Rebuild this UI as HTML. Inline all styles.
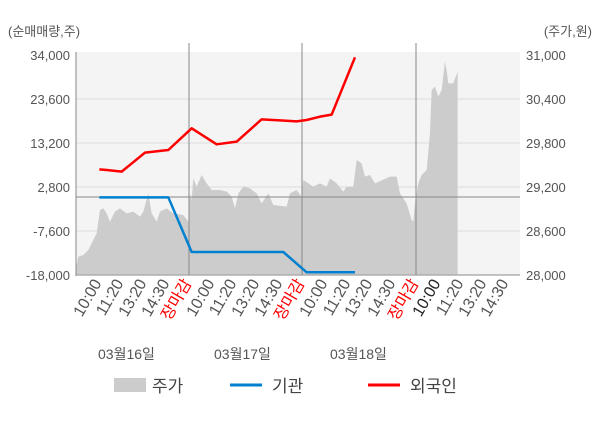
<!DOCTYPE html>
<html><head><meta charset="utf-8"><style>
body{margin:0;background:#fff}
svg{display:block;font-family:"Liberation Sans","Noto Sans CJK KR",sans-serif}
</style></head><body>
<svg width="600" height="428" xmlns="http://www.w3.org/2000/svg">
<rect x="76" y="52" width="444" height="223" fill="#f4f4f4"/>
<g stroke="#dcdcdc" stroke-width="1">
<line x1="76" y1="99" x2="520" y2="99"/><line x1="76" y1="143" x2="520" y2="143"/>
<line x1="76" y1="187" x2="520" y2="187"/><line x1="76" y1="231" x2="520" y2="231"/>
</g>
<g transform="translate(60,40) scale(0.3333)">
<polygon fill="#cccccc" points="47,703 47,690 55,650 70,645 85,630 100,600 110,580 120,510 130,505 140,520 150,545 165,515 180,505 200,520 220,515 240,530 250,515 265,460 275,520 290,545 300,515 320,505 340,520 370,525 385,545 390,460 395,480 400,415 410,440 425,405 440,430 455,450 480,450 500,455 515,470 525,505 535,460 550,440 570,445 590,460 605,490 625,460 640,495 680,500 690,460 710,450 725,470 730,420 745,430 760,440 780,430 800,440 810,415 830,430 850,455 860,440 880,440 890,360 905,370 915,410 930,405 945,430 990,410 1010,410 1020,460 1040,490 1055,540 1060,545 1065,490 1075,430 1085,405 1100,390 1110,280 1115,150 1125,140 1135,170 1145,150 1155,65 1160,90 1165,130 1180,130 1193,95 1193,703"/>
</g>
<g stroke="#888" stroke-width="1">
<line x1="189" y1="43" x2="189" y2="275"/><line x1="302" y1="43" x2="302" y2="275"/><line x1="416" y1="43" x2="416" y2="275"/>
<line x1="76" y1="197" x2="520" y2="197"/>
<line x1="76" y1="52" x2="76" y2="276"/><line x1="76" y1="275" x2="520" y2="275"/>
</g>
<g transform="translate(60,40) scale(0.3333)" fill="none" stroke-linejoin="round">
<polyline stroke="#0080d0" stroke-width="2.5" vector-effect="non-scaling-stroke" points="118,472 325,472 395,636 670,636 740,697 885,697"/>
<polyline stroke="#ff0000" stroke-width="2.5" vector-effect="non-scaling-stroke" points="118,388 140,390 185,395 255,338 325,330 395,265 470,313 530,305 605,238 660,241 710,244 740,240 780,230 815,224 885,52"/>
</g>
<g font-size="13" fill="#555" text-anchor="end">
<text x="70" y="60">34,000</text><text x="70" y="104">23,600</text><text x="70" y="148">13,200</text>
<text x="70" y="192">2,800</text><text x="70" y="236">-7,600</text><text x="70" y="280">-18,000</text>
</g>
<g font-size="13" fill="#555">
<text x="526" y="60">31,000</text><text x="526" y="104">30,400</text><text x="526" y="148">29,800</text>
<text x="526" y="192">29,200</text><text x="526" y="236">28,600</text><text x="526" y="280">28,000</text>
<text x="8" y="36">(순매매량,주)</text><text x="592" y="36" text-anchor="end">(주가,원)</text>
</g>
<g font-size="16" fill="#555" text-anchor="end">
<text transform="translate(102,283) rotate(-60)">10:00</text>
<text transform="translate(124,283) rotate(-60)">11:20</text>
<text transform="translate(147,283) rotate(-60)">13:20</text>
<text transform="translate(170,283) rotate(-60)">14:30</text>
<text transform="translate(192,283) rotate(-60)" fill="#f00">장마감</text>
<text transform="translate(215,283) rotate(-60)">10:00</text>
<text transform="translate(237,283) rotate(-60)">11:20</text>
<text transform="translate(260,283) rotate(-60)">13:20</text>
<text transform="translate(283,283) rotate(-60)">14:30</text>
<text transform="translate(305,283) rotate(-60)" fill="#f00">장마감</text>
<text transform="translate(328,283) rotate(-60)">10:00</text>
<text transform="translate(351,283) rotate(-60)">11:20</text>
<text transform="translate(373,283) rotate(-60)">13:20</text>
<text transform="translate(396,283) rotate(-60)">14:30</text>
<text transform="translate(419,283) rotate(-60)" fill="#f00">장마감</text>
<text transform="translate(441,283) rotate(-60)" fill="#222">10:00</text>
<text transform="translate(464,283) rotate(-60)">11:20</text>
<text transform="translate(487,283) rotate(-60)">13:20</text>
<text transform="translate(509,283) rotate(-60)">14:30</text>
</g>
<g font-size="14" fill="#555">
<text x="98" y="359">03월16일</text><text x="214" y="359">03월17일</text><text x="330" y="359">03월18일</text>
</g>
<rect x="114" y="378" width="32" height="14" fill="#cccccc"/>
<line x1="230" y1="385" x2="262" y2="385" stroke="#0080d0" stroke-width="3"/>
<line x1="368" y1="385" x2="400" y2="385" stroke="#ff0000" stroke-width="3"/>
<g font-size="17" fill="#444">
<text x="152" y="392">주가</text><text x="272" y="392">기관</text><text x="410" y="392">외국인</text>
</g>
</svg>
</body></html>
